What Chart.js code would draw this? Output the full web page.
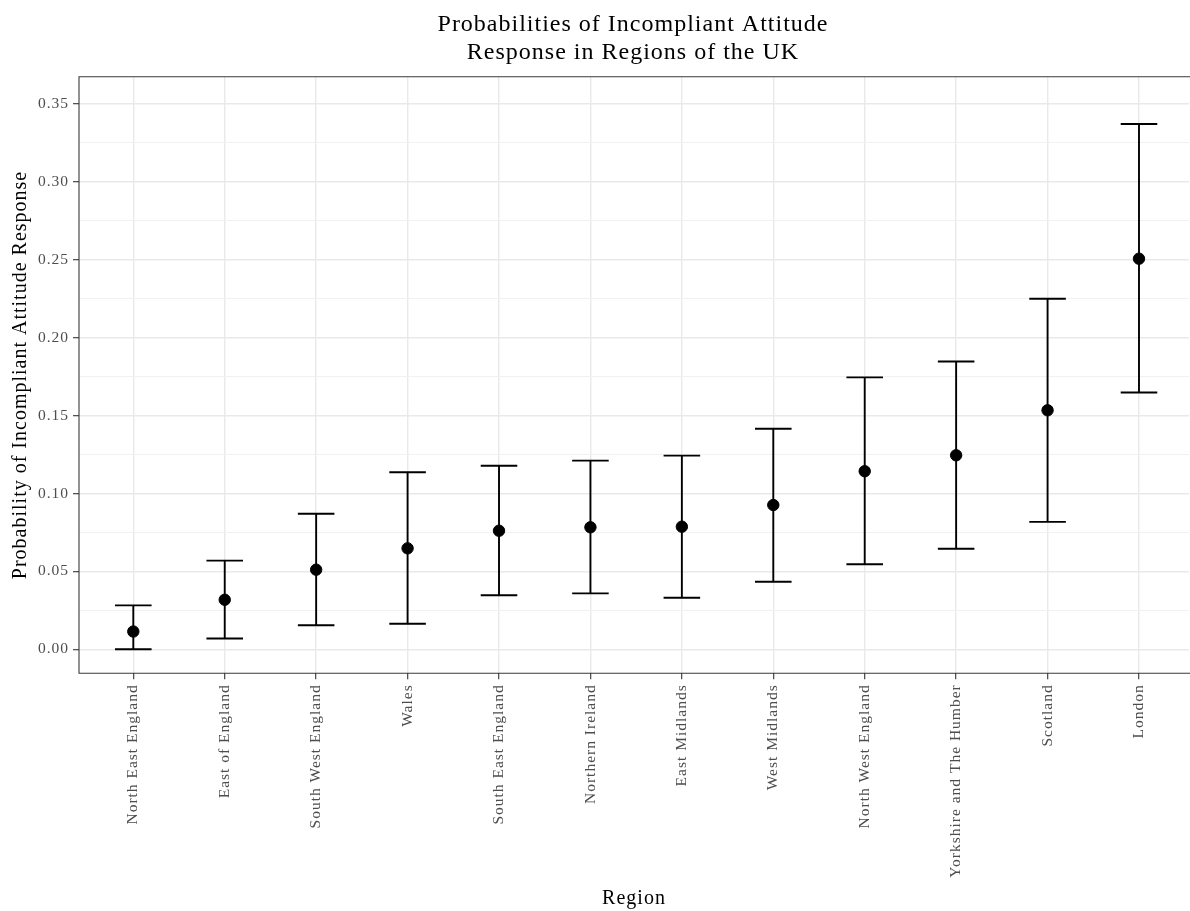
<!DOCTYPE html>
<html>
<head>
<meta charset="utf-8">
<title>Probabilities of Incompliant Attitude Response in Regions of the UK</title>
<script src="https://cdn.jsdelivr.net/npm/chart.js@4/dist/chart.umd.min.js"></script>
<style>
  html, body { margin: 0; padding: 0; background: #ffffff; }
  #wrap { width: 1190px; height: 911px; overflow: hidden; }
</style>
</head>
<body>
<div id="wrap"><canvas id="chart" width="1190" height="911"></canvas></div>
<script>
// Regions, ordered by estimated probability
const categories = [
  'North East England', 'East of England', 'South West England', 'Wales',
  'South East England', 'Northern Ireland', 'East Midlands', 'West Midlands',
  'North West England', 'Yorkshire and The Humber', 'Scotland', 'London'
];
// Point estimates and interval bounds
const estimates = [0.0114, 0.0318, 0.0511, 0.0648, 0.0761, 0.0783, 0.0787, 0.0926, 0.1143, 0.1245, 0.1534, 0.2507];
const lower     = [0.0000, 0.0069, 0.0154, 0.0164, 0.0347, 0.0359, 0.0331, 0.0434, 0.0546, 0.0645, 0.0818, 0.1648];
const upper     = [0.0282, 0.0569, 0.0870, 0.1136, 0.1178, 0.1211, 0.1243, 0.1416, 0.1745, 0.1847, 0.2250, 0.3371];
// Y axis: labelled ticks and the in-between minor lines
const yMajorTicks = [0, 0.05, 0.10, 0.15, 0.20, 0.25, 0.30, 0.35];
const yMinorTicks = [0.025, 0.075, 0.125, 0.175, 0.225, 0.275, 0.325];

const titleLines = ['Probabilities of Incompliant Attitude', 'Response in Regions of the UK'];
const CAP_HALF = 0.2;
const SERIF = "'Liberation Serif', 'Times New Roman', serif";

const isMajor = v => yMajorTicks.some(t => Math.abs(t - v) < 1e-9);

// Vertical stems and horizontal caps, broken into separate segments by null points
const stemData = [];
const capData = [];
categories.forEach((_, i) => {
  stemData.push({ x: i, y: lower[i] }, { x: i, y: upper[i] }, { x: i, y: null });
  capData.push({ x: i - CAP_HALF, y: upper[i] }, { x: i + CAP_HALF, y: upper[i] }, { x: i, y: null });
  capData.push({ x: i - CAP_HALF, y: lower[i] }, { x: i + CAP_HALF, y: lower[i] }, { x: i, y: null });
});
const pointData = categories.map((_, i) => ({ x: i, y: estimates[i] }));

// Panel frame (left, top, bottom; the panel runs on past the right edge),
// spaced lettering and the two-line title
const panelPlugin = {
  id: 'panel',
  beforeDraw(chart) {
    chart.ctx.letterSpacing = '1px';
  },
  afterDatasetsDraw(chart) {
    const { ctx, chartArea: a } = chart;
    ctx.save();
    ctx.strokeStyle = '#3a3a3a';
    ctx.lineWidth = 1.1;
    ctx.beginPath();
    ctx.moveTo(chart.width, a.top);
    ctx.lineTo(a.left, a.top);
    ctx.lineTo(a.left, a.bottom);
    ctx.lineTo(chart.width, a.bottom);
    ctx.stroke();
    ctx.restore();
  },
  afterDraw(chart) {
    const { ctx, chartArea: a } = chart;
    ctx.save();
    ctx.letterSpacing = '1px';
    ctx.fillStyle = '#000000';
    ctx.font = '24px ' + SERIF;
    ctx.textAlign = 'center';
    ctx.textBaseline = 'alphabetic';
    const cx = (a.left + a.right) / 2 - 1;
    ctx.fillText(titleLines[0], cx, 31);
    ctx.fillText(titleLines[1], cx, 59);
    ctx.restore();
  }
};

new Chart(document.getElementById('chart'), {
  type: 'scatter',
  data: {
    datasets: [
      {
        label: 'estimate',
        data: pointData,
        backgroundColor: '#000000',
        borderColor: '#000000',
        pointRadius: 5.7,
        pointHoverRadius: 5.7,
        order: 0
      },
      {
        label: 'interval',
        data: stemData,
        showLine: true,
        spanGaps: false,
        borderColor: '#000000',
        borderWidth: 1.9,
        pointRadius: 0,
        pointHoverRadius: 0,
        order: 1
      },
      {
        label: 'caps',
        data: capData,
        showLine: true,
        spanGaps: false,
        borderColor: '#000000',
        borderWidth: 1.9,
        pointRadius: 0,
        pointHoverRadius: 0,
        order: 1
      }
    ]
  },
  options: {
    responsive: false,
    animation: false,
    layout: { autoPadding: false, padding: { top: 76.7, right: 1, left: 0, bottom: 0 } },
    plugins: {
      legend: { display: false },
      title: { display: false },
      tooltip: { enabled: false }
    },
    scales: {
      x: {
        type: 'linear',
        position: 'bottom',
        min: -0.594,
        max: categories.length - 1 + 0.547,
        afterBuildTicks(scale) {
          scale.ticks = categories.map((_, i) => ({ value: i }));
        },
        afterFit(scale) {
          scale.height = 237.7;
          scale.paddingLeft = 0;
          scale.paddingRight = 0;
        },
        ticks: {
          autoSkip: false,
          minRotation: 90,
          maxRotation: 90,
          padding: 5,
          color: '#4d4d4d',
          font: { family: SERIF, size: 15.5 },
          callback: (v) => categories[v]
        },
        grid: {
          color: '#e9e9e9',
          lineWidth: 1.4,
          tickLength: 6,
          tickColor: '#333333',
          tickWidth: 1.1
        },
        border: { display: false },
        title: {
          display: true,
          text: 'Region',
          color: '#000000',
          font: { family: SERIF, size: 20 },
          padding: { top: 0, bottom: 0 }
        }
      },
      y: {
        type: 'linear',
        min: -0.0154,
        max: 0.3675,
        afterBuildTicks(scale) {
          scale.ticks = yMajorTicks.concat(yMinorTicks).sort((a, b) => a - b).map(v => ({ value: v }));
        },
        afterFit(scale) {
          scale.width = 79;
          scale.paddingTop = 0;
          scale.paddingBottom = 0;
        },
        ticks: {
          padding: 4,
          color: '#4d4d4d',
          font: { family: SERIF, size: 15.5 },
          callback: (v) => isMajor(v) ? v.toFixed(2) : ''
        },
        grid: {
          color: (ctx) => (ctx.tick && isMajor(ctx.tick.value)) ? '#e9e9e9' : '#f1f1f1',
          lineWidth: (ctx) => (ctx.tick && isMajor(ctx.tick.value)) ? 1.4 : 1.1,
          tickLength: 6,
          tickColor: (ctx) => (ctx.tick && isMajor(ctx.tick.value)) ? '#333333' : 'rgba(0,0,0,0)',
          tickWidth: 1.1
        },
        border: { display: false },
        title: {
          display: true,
          text: 'Probability of Incompliant Attitude Response',
          color: '#000000',
          font: { family: SERIF, size: 20 },
          padding: { top: 9, bottom: 0 }
        }
      }
    }
  },
  plugins: [panelPlugin]
});
</script>
</body>
</html>
